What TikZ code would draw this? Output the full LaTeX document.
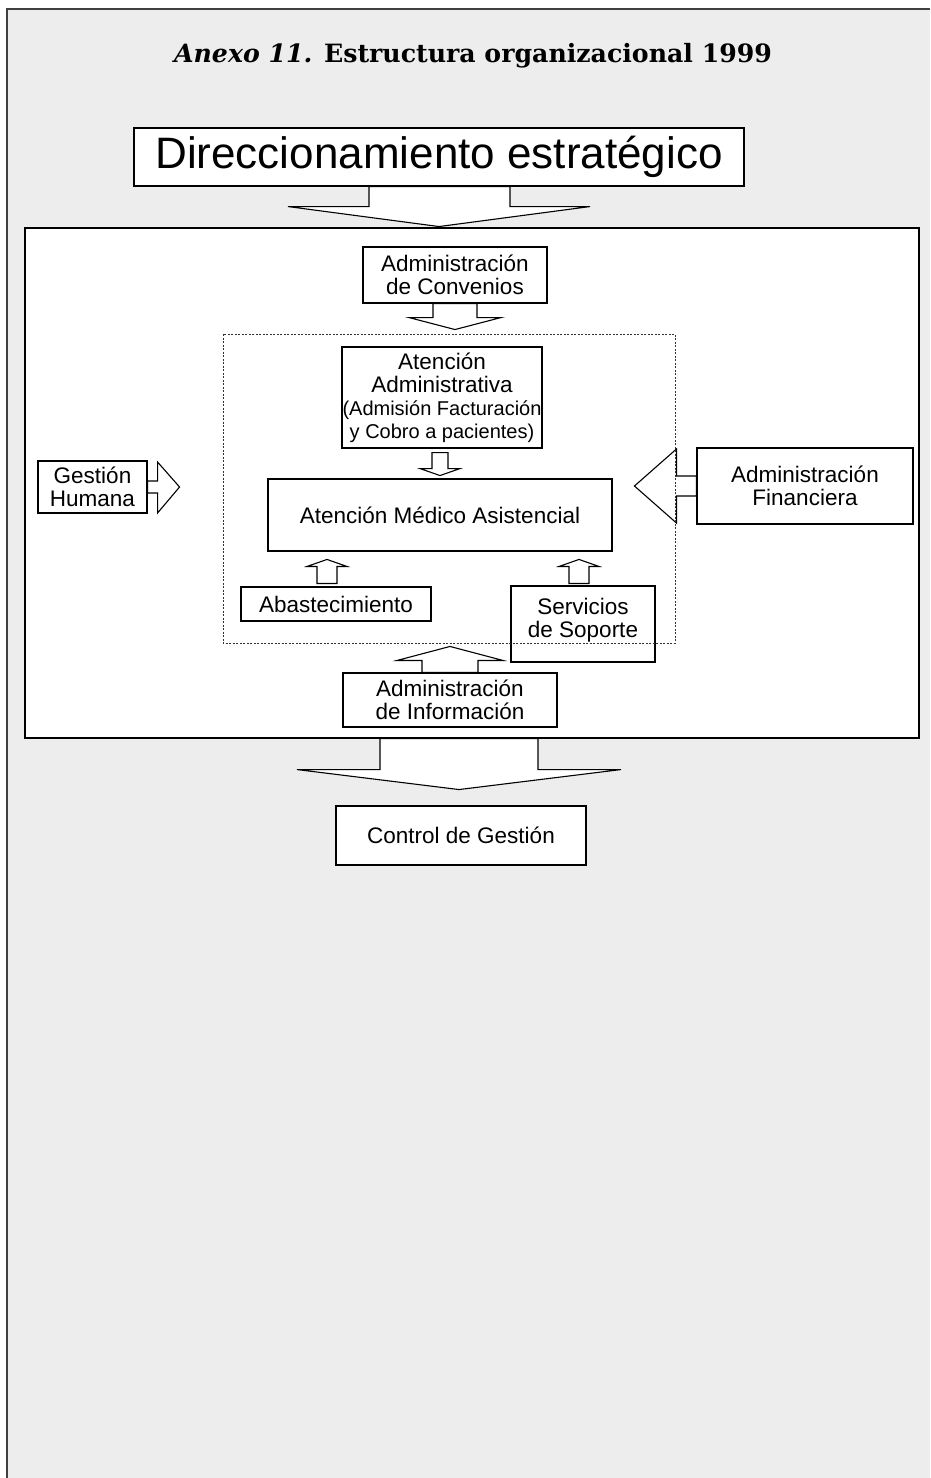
\documentclass[tikz,border=0pt]{standalone}
\usepackage{fontspec}
\setmainfont{Liberation Sans}
\newfontfamily\titlefont{DejaVu Serif}
\usetikzlibrary{positioning}
\definecolor{pagegray}{HTML}{EDEDED}
\tikzset{
  box/.style={draw, fill=white, inner sep=0pt, align=center,
    font=\fontsize{22.5}{23}\selectfont},
  blockarr/.style={draw, fill=white, line join=miter},
  dotbox/.style={black!80, line width=0.8pt, dash pattern=on 2pt off 1.5pt},
}

\begin{document}
\begin{tikzpicture}[x=1pt, y=-1pt, line width=1.1pt]
  \useasboundingbox (0,0) rectangle (930,1478);
  \fill[pagegray] (7,9) rectangle (930,1478);
  \draw[black!75, line width=1.5pt] (7,1478) -- (7,9) -- (930,9);

  \node[anchor=base, font=\fontsize{25.2}{28}\selectfont] (title) at (473,62)
    {\titlefont\bfseries\itshape Anexo 11. \upshape Estructura organizacional 1999};

  % bloques principales
  \node[box, minimum width=610pt, minimum height=58pt,
    font=\fontsize{44}{48}\selectfont] (dir) at (439,157) {Direccionamiento estrat\'egico};
  \node[draw, fill=white, minimum width=894pt, minimum height=510pt, inner sep=0pt] (org) at (472,483) {};

  \draw[blockarr] ([xshift=-70pt]dir.south) -- ++(0,20) -- ++(-81,0) -- ++(151,20)
    -- ++(151,-20) -- ++(-80,0) -- ++(0,-20) -- cycle;
  \draw[blockarr] ([xshift=-92pt]org.south) -- ++(0,31) -- ++(-83,0) -- ++(162,20)
    -- ++(162,-20) -- ++(-83,0) -- ++(0,-31) -- cycle;

  \node[box, minimum width=184pt, minimum height=56pt] (conv) at (455,275) {Administraci\'on\\de Convenios};
  \node[box, minimum width=200pt, minimum height=101pt] (atadm) at (442,397.5)
    {Atenci\'on\\Administrativa\\\fontsize{20}{23}\selectfont (Admisi\'on Facturaci\'on\\\fontsize{20}{23}\selectfont y Cobro a pacientes)};
  \node[box, minimum width=344pt, minimum height=72pt] (med) at (440,515) {Atenci\'on M\'edico Asistencial};
  \node[box, minimum width=109pt, minimum height=52pt] (gest) at (92.5,487) {Gesti\'on\\Humana};
  \node[box, minimum width=216pt, minimum height=76pt] (fin) at (805,486) {Administraci\'on\\Financiera};
  \node[box, minimum width=190pt, minimum height=34pt] (abas) at (336,604) {Abastecimiento};
  \node[box, minimum width=144pt, minimum height=76pt, text depth=13pt] (serv) at (583,624) {Servicios\\de Soporte};
  \node[box, minimum width=214pt, minimum height=54pt] (info) at (450,700) {Administraci\'on\\de Informaci\'on};
  \node[box, minimum width=250pt, minimum height=59pt] (ctrl) at (461,835.5) {Control de Gesti\'on};

  % flechas de bloque
  \draw[blockarr] ([xshift=-22pt]conv.south) -- ++(0,14) -- ++(-24,0) -- ++(46,12)
    -- ++(46,-12) -- ++(-24,0) -- ++(0,-14) -- cycle;
  \draw[blockarr] ([xshift=-10pt,yshift=-4pt]atadm.south) -- ++(0,16) -- ++(-12,0) -- ++(20,7)
    -- ++(20,-7) -- ++(-12,0) -- ++(0,-16) -- cycle;
  \draw[blockarr] ([xshift=-19pt,yshift=3pt]abas.north) -- ++(0,-17) -- ++(-10,0) -- ++(20,-7)
    -- ++(20,7) -- ++(-10,0) -- ++(0,17) -- cycle;
  \draw[blockarr] ([xshift=-14pt,yshift=2pt]serv.north) -- ++(0,-17) -- ++(-10,0) -- ++(20,-7)
    -- ++(20,7) -- ++(-10,0) -- ++(0,17) -- cycle;
  \draw[blockarr] ([xshift=-28pt]info.north) -- ++(0,-12) -- ++(-25,0) -- ++(53,-14)
    -- ++(53,14) -- ++(-25,0) -- ++(0,12) -- cycle;
  \draw[blockarr] ([yshift=6pt]gest.east) -- ++(10,0) -- ++(0,-19) -- ++(22,25)
    -- ++(-22,26) -- ++(0,-20) -- ++(-10,0) -- cycle;
  \draw[blockarr] ([yshift=10pt]fin.west) -- ++(-20,0) -- ++(0,-27) -- ++(-42,37)
    -- ++(42,37) -- ++(0,-27) -- ++(20,0) -- cycle;

  \draw[dotbox] (223,334) rectangle (675,643);
\end{tikzpicture}
\end{document}
